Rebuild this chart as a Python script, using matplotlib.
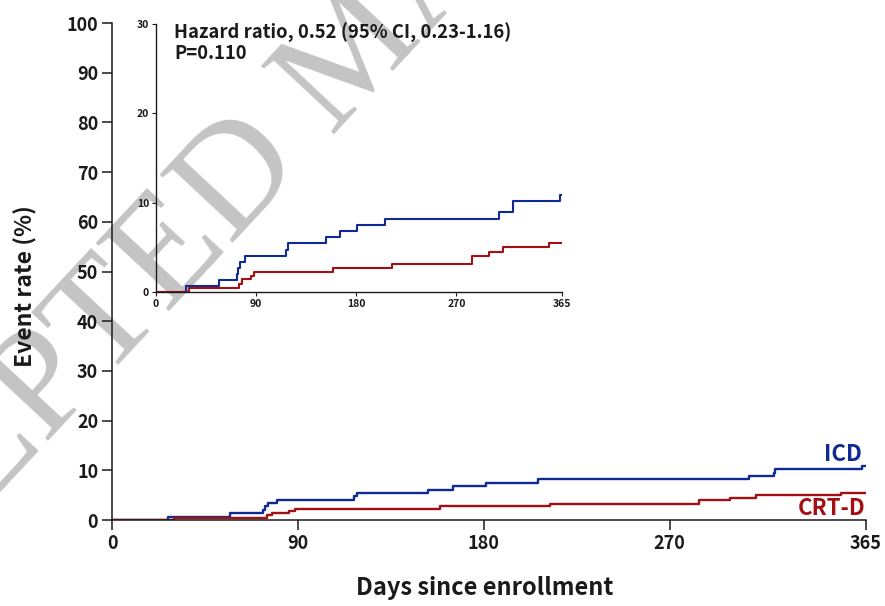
import matplotlib
matplotlib.use('Agg')
import matplotlib.pyplot as plt

# Cumulative event rates (%)
icd_days = [0, 27, 57, 73, 74, 75.5, 80, 117, 118.5, 153, 165, 181, 206, 308.5, 320.5, 321, 363, 365]
icd_rate = [0, 0.68, 1.36, 2.04, 2.72, 3.40, 4.08, 4.76, 5.44, 6.12, 6.80, 7.48, 8.16, 8.95, 9.55, 10.25, 10.9, 10.9]

crt_days = [0, 30, 75, 77.5, 85.5, 88.5, 159, 212, 284, 299, 312, 353, 365]
crt_rate = [0, 0.48, 0.95, 1.42, 1.82, 2.25, 2.72, 3.17, 4.03, 4.50, 5.00, 5.45, 5.45]

x_ticks = [0, 90, 180, 270, 365]
main_y_ticks = [0, 10, 20, 30, 40, 50, 60, 70, 80, 90, 100]
inset_y_ticks = [0, 10, 20, 30]

blue = '#102a94'
red = '#a30f13'
fg = '#1a1a1a'

plt.rcParams['font.family'] = ['Noto Sans CJK JP', 'DejaVu Sans']
plt.rcParams['font.weight'] = 'bold'
plt.rcParams['axes.labelweight'] = 'bold'

fig = plt.figure(figsize=(8.85, 6.06), dpi=100)
fig.patch.set_facecolor('white')

# watermark
fig.text(0.405, 0.91, 'ACCEPTED MANUSCRIPT', family='Liberation Serif', weight='normal',
         fontsize=110, color='#c4c4c4', rotation=47, rotation_mode='anchor',
         ha='center', va='center', zorder=-5)

ax = fig.add_axes([0.1266, 0.1419, 0.8519, 0.8201])
ax.set_facecolor('none')
ax.step(icd_days, icd_rate, where='post', color=blue, lw=1.7)
ax.step(crt_days, crt_rate, where='post', color=red, lw=1.7)
ax.set_xlim(0, 365)
ax.set_ylim(0, 100)
ax.set_xticks(x_ticks)
ax.set_yticks(main_y_ticks)
for s in ['top', 'right']:
    ax.spines[s].set_visible(False)
for s in ['left', 'bottom']:
    ax.spines[s].set_linewidth(1.1)
    ax.spines[s].set_color(fg)
ax.tick_params(length=7, width=1.1, color=fg, labelsize=13, pad=3, labelcolor=fg)
ax.set_xlabel('Days since enrollment', fontsize=17, color=fg)
ax.xaxis.set_label_coords(0.494, -0.112)
ax.set_ylabel('Event rate (%)', fontsize=16.5, color=fg)
ax.yaxis.set_label_coords(-0.099, 0.47)
ax.text(363, 13.2, 'ICD', color=blue, fontsize=16, ha='right', va='center')
ax.text(365, 2.4, 'CRT-D', color=red, fontsize=16, ha='right', va='center')

# inset
ins = fig.add_axes([0.1763, 0.518, 0.4588, 0.4422])
ins.set_facecolor('none')
ins.step(icd_days, icd_rate, where='post', color=blue, lw=1.5)
ins.step(crt_days, crt_rate, where='post', color=red, lw=1.5)
ins.set_xlim(0, 365)
ins.set_ylim(0, 30)
ins.set_xticks(x_ticks)
ins.set_yticks(inset_y_ticks)
for s in ['top', 'right']:
    ins.spines[s].set_visible(False)
for s in ['left', 'bottom']:
    ins.spines[s].set_linewidth(1.0)
    ins.spines[s].set_color(fg)
ins.tick_params(length=3, width=0.8, color=fg, labelsize=7.5, pad=2, labelcolor=fg)
ins.text(0.045, 1.005, 'Hazard ratio, 0.52 (95% CI, 0.23-1.16)\nP=0.110',
         transform=ins.transAxes, fontsize=13.3, color=fg,
         ha='left', va='top', linespacing=1.1)

fig.savefig('out.png', dpi=100)
